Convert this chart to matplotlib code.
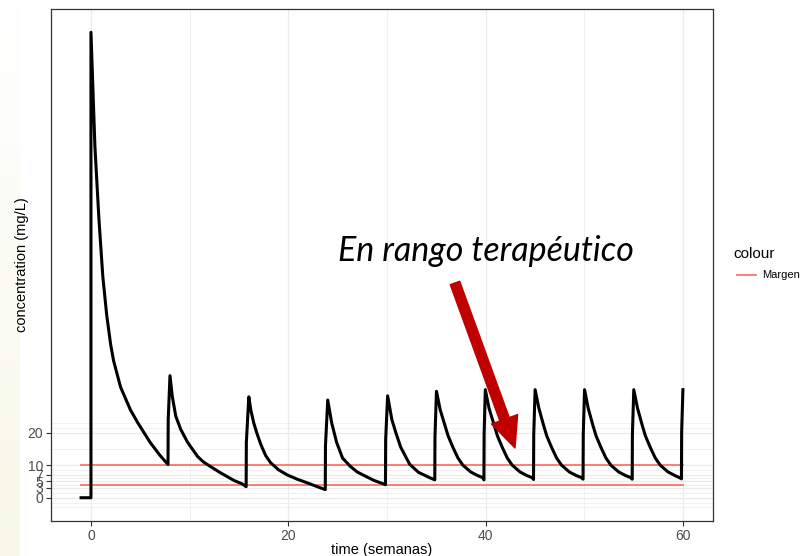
import numpy as np
import matplotlib.pyplot as plt
from matplotlib.lines import Line2D
from matplotlib.patches import FancyArrowPatch

plt.rcParams['font.family'] = ['Liberation Sans', 'DejaVu Sans']

# concentration curve, one row per dosing interval (weeks, mg/L)
time = [
    -1.0, 0.0, 0.0, 0.4, 0.8, 1.2, 1.6, 2.0, 2.3, 3.0, 4.0, 4.75, 6.0, 7.0, 7.81,
    7.83, 8.01, 8.25, 8.6, 9.1, 9.8, 10.8, 11.4, 12.1, 13.0, 13.8, 14.5, 15.3, 15.73,
    15.75, 16.0, 16.2, 16.5, 16.8, 17.2, 17.7, 18.2, 19.0, 19.9, 20.9, 21.9, 23.2, 23.75,
    23.77, 24.0, 24.4, 24.9, 25.5, 26.3, 27.0, 27.9, 28.7, 29.6, 29.85,
    29.87, 30.07, 30.5, 30.9, 31.4, 32.3, 33.2, 34.3, 34.85,
    34.87, 35.02, 35.4, 35.9, 36.2, 36.7, 37.2, 37.7, 38.5, 39.2, 39.7, 39.83,
    39.85, 39.97, 40.35, 40.9, 41.2, 41.7, 42.2, 42.7, 43.5, 44.2, 44.7, 44.86,
    44.88, 45.02, 45.4, 45.9, 46.2, 46.7, 47.2, 47.7, 48.5, 49.2, 49.7, 49.88,
    49.9, 50.03, 50.4, 50.9, 51.2, 51.7, 52.2, 52.7, 53.5, 54.2, 54.7, 54.86,
    54.88, 55.02, 55.4, 55.9, 56.2, 56.7, 57.2, 57.7, 58.5, 59.2, 59.7, 59.85,
    59.87, 60.0,
]
conc = [
    0, 0, 143, 108, 86, 68, 56, 47, 42, 34, 27, 23, 17, 13, 10.2,
    24, 37.5, 31, 25, 21, 17, 12.7, 11.0, 9.6, 7.9, 6.5, 5.3, 4.3, 3.4,
    17, 31, 27, 23, 20, 16.5, 13, 10.8, 8.6, 7.0, 5.7, 4.6, 3.1, 2.5,
    16, 30, 23, 17, 12.2, 9.6, 7.9, 6.5, 5.3, 4.3, 4.0,
    17.8, 31.3, 24, 20, 15.5, 10.3, 7.8, 6.2, 5.5,
    18.8, 32.7, 27, 22, 19, 15.4, 12.2, 10.0, 7.9, 6.8, 6.2, 5.5,
    19.4, 33.2, 27.5, 22, 19, 15.4, 12.2, 10.0, 7.9, 6.8, 6.2, 5.6,
    19.4, 33.2, 27.5, 22, 19, 15.4, 12.2, 10.0, 7.9, 6.8, 6.2, 5.7,
    19.4, 33.2, 27.5, 22, 19, 15.4, 12.2, 10.0, 7.9, 6.8, 6.2, 5.7,
    19.4, 33.2, 27.5, 22, 19, 15.4, 12.2, 10.0, 7.9, 6.8, 6.1, 5.8,
    20, 33.2,
]

# therapeutic margin
margin_t = [-1, 60]
margin_low = [4, 4]
margin_high = [10, 10]

xticks = [0, 20, 40, 60]
xminor = [10, 30, 50]
yticks = [0, 3, 5, 7, 10, 20]
yminor = [-3, -1.5, 1.5, 4, 6, 8.5, 15, 21.5, 23]

W, H = 800, 556
fig = plt.figure(figsize=(8, 5.56), dpi=100)

# faint warm tint along the left edge, stronger towards the bottom
bg = fig.add_axes([0, 0, 20 / W, 1], zorder=-5)
grad = np.linspace(0, 1, 256).reshape(-1, 1)
tint = np.dstack([1 - grad * 0.03, 1 - grad * 0.025, 1 - grad * 0.09])
bg.imshow(tint, aspect='auto', extent=[0, 1, 0, 1])
bg.axis('off')

ax = fig.add_axes([51 / W, 35 / H, 662 / W, 512 / H])

ax.plot(margin_t, margin_high, color='#F8766D', lw=1.3, zorder=2)
ax.plot(margin_t, margin_low, color='#F8766D', lw=1.3, zorder=2)
ax.plot(time, conc, color='black', lw=2.2, zorder=3)

ax.set_xlim(-4.05, 63.05)
ax.set_ylim(-7.15, 150.15)
ax.set_xticks(xticks)
ax.set_xticks(xminor, minor=True)
ax.set_yticks(yticks)
ax.set_yticks(yminor, minor=True)
ax.grid(which='major', color='#EBEBEB', lw=0.9, zorder=0)
ax.grid(which='minor', color='#EBEBEB', lw=0.5, zorder=0)
ax.set_axisbelow(True)
ax.tick_params(which='major', length=3.5, width=0.8, color='#333333',
               labelcolor='#4D4D4D', labelsize=10, pad=2)
ax.tick_params(which='minor', length=0)
for s in ax.spines.values():
    s.set_color('#333333')
    s.set_linewidth(0.9)

ax.set_xlabel('time (semanas)', fontsize=10.5, labelpad=0)
ax.set_ylabel('concentration (mg/L)', fontsize=10.5)
ax.yaxis.set_label_coords(-22 / 662, 0.5)

# annotation
fig.text(486 / W, 1 - 251 / H, 'En rango terapéutico', family=['Lato', 'DejaVu Sans'],
         style='italic', fontsize=24.5, ha='center', va='center')
arrow = FancyArrowPatch((455, H - 283), (515, H - 448), transform=None,
                        arrowstyle='simple,head_length=1.1,head_width=1.0,tail_width=0.36',
                        mutation_scale=20, color='#C00000', shrinkA=0, shrinkB=0, zorder=5)
fig.add_artist(arrow)

# legend
fig.text(733 / W, 1 - 254 / H, 'colour', fontsize=11, va='center', ha='left')
fig.add_artist(Line2D([737 / W, 756 / W], [1 - 275 / H, 1 - 275 / H],
                      color='#F8766D', lw=1.3))
fig.text(762 / W, 1 - 275 / H, 'Margen', fontsize=8, va='center', ha='left')

fig.savefig('out.png', dpi=100)
